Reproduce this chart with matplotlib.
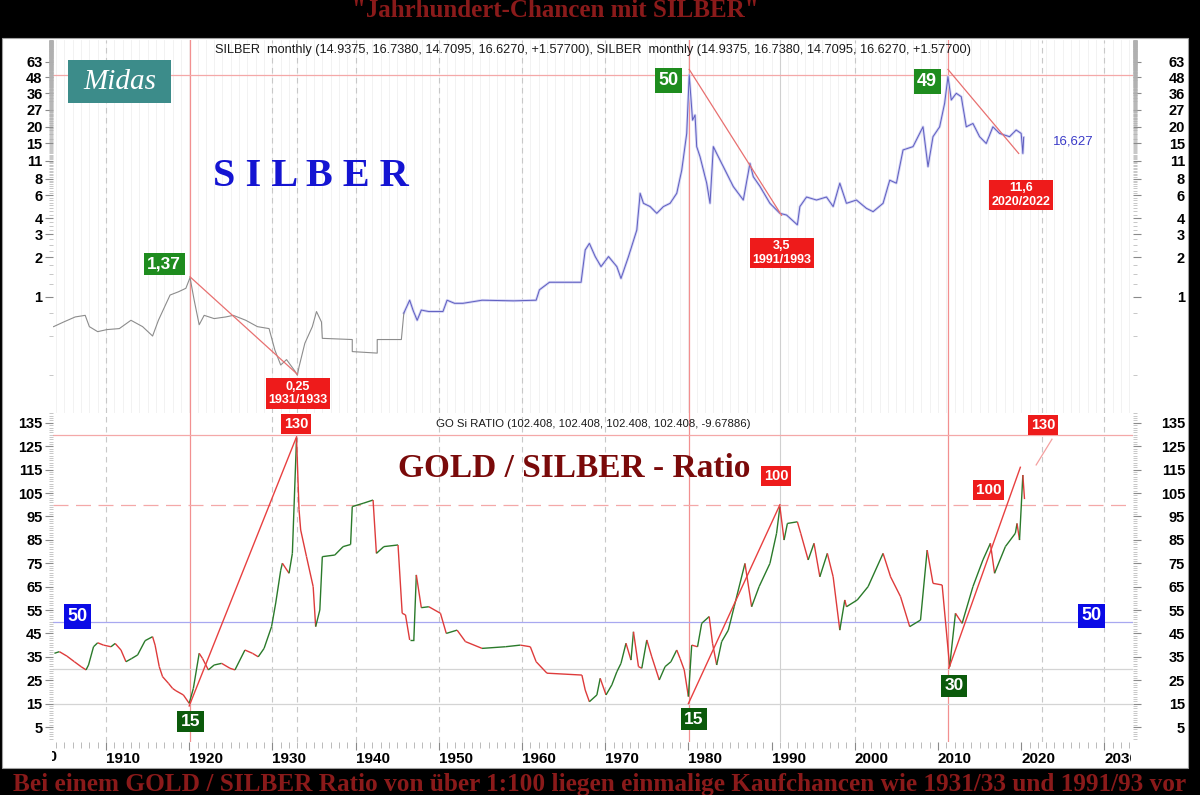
import numpy as np
import matplotlib
matplotlib.use("Agg")
import matplotlib.pyplot as plt
from matplotlib.collections import LineCollection
from matplotlib.patches import Rectangle
from matplotlib.ticker import FixedLocator, NullFormatter, FixedFormatter, NullLocator
from matplotlib.transforms import Bbox, TransformedBbox

# ---------------- data ----------------
silver_years = [1903.7, 1904.9, 1906.3, 1907.5, 1908.0, 1909.0, 1910.1, 1911.6, 1913.0, 1914.4,
                1915.6, 1916.3, 1917.7, 1918.7, 1919.6, 1920.1, 1920.6, 1921.2, 1921.8, 1923.0,
                1924.4, 1925.3, 1926.8, 1928.2, 1929.6, 1930.3, 1931.0, 1931.7, 1932.7, 1933.0,
                1933.2, 1933.9, 1934.8, 1935.3, 1935.9, 1936.0, 1939.6, 1939.6, 1942.6, 1942.6,
                1945.5, 1945.8, 1946.5, 1946.9, 1947.4, 1947.9, 1948.8, 1950.5, 1951.0, 1951.9,
                1952.9, 1955.2, 1959.0, 1961.7, 1962.1, 1963.3, 1967.1, 1967.6, 1968.1, 1968.8,
                1969.5, 1970.4, 1971.4, 1971.9, 1972.8, 1973.8, 1974.2, 1974.6, 1975.4, 1976.2,
                1977.0, 1977.8, 1978.6, 1979.2, 1979.8, 1980.1, 1980.5, 1980.8, 1981.0, 1981.4,
                1982.2, 1982.6, 1983.0, 1983.4, 1984.2, 1985.4, 1986.6, 1987.4, 1987.8, 1988.6,
                1989.8, 1991.0, 1991.8, 1993.1, 1993.4, 1994.2, 1995.4, 1996.6, 1997.4, 1998.2,
                1999.0, 2000.2, 2001.4, 2002.2, 2003.4, 2004.2, 2005.0, 2005.8, 2007.0, 2008.2,
                2008.8, 2009.4, 2010.2, 2010.8, 2011.2, 2011.6, 2012.2, 2012.8, 2013.4, 2014.2,
                2015.0, 2015.8, 2016.6, 2017.4, 2018.6, 2019.4, 2020.0, 2020.2, 2020.3]
silver_prices = [0.59, 0.64, 0.70, 0.72, 0.59, 0.54, 0.56, 0.57, 0.66, 0.59,
                 0.50, 0.66, 1.03, 1.09, 1.16, 1.40, 0.94, 0.61, 0.72, 0.68,
                 0.70, 0.72, 0.66, 0.59, 0.57, 0.39, 0.30, 0.33, 0.27, 0.25,
                 0.29, 0.44, 0.59, 0.77, 0.64, 0.48, 0.47, 0.38, 0.37, 0.47,
                 0.47, 0.75, 0.94, 0.79, 0.66, 0.79, 0.77, 0.77, 0.94, 0.89,
                 0.89, 0.94, 0.93, 0.94, 1.13, 1.29, 1.29, 2.28, 2.56, 2.03,
                 1.70, 2.03, 1.70, 1.38, 2.03, 3.24, 6.19, 5.19, 4.90, 4.35,
                 4.90, 5.19, 6.19, 9.3, 17.8, 50.0, 22.5, 24.6, 14.1, 11.8,
                 7.4, 5.19, 14.1, 12.5, 9.9, 6.97, 5.5, 10.5, 8.3, 7.0,
                 5.19, 4.35, 4.22, 3.55, 4.90, 5.8, 5.5, 5.8, 4.90, 7.4,
                 5.19, 5.5, 4.75, 4.48, 5.19, 7.8, 7.4, 13.3, 14.1, 20.0,
                 9.9, 16.8, 20.0, 30.3, 48.5, 32.1, 36.1, 34.0, 20.0, 21.2,
                 16.8, 14.9, 20.0, 17.8, 16.8, 18.9, 17.8, 12.5, 16.6]

ratio_years = [1903.8, 1904.4, 1905.3, 1906.2, 1907.0, 1907.6, 1907.9, 1908.5, 1909.0, 1909.7,
               1910.6, 1911.1, 1911.8, 1912.4, 1913.1, 1913.8, 1914.7, 1915.6, 1915.9, 1916.4,
               1916.8, 1917.5, 1918.0, 1918.4, 1919.3, 1920.0, 1920.5, 1921.2, 1921.6, 1922.3,
               1923.0, 1923.9, 1924.9, 1925.5, 1926.7, 1927.6, 1928.3, 1929.0, 1929.9, 1930.4,
               1931.0, 1931.2, 1932.0, 1932.4, 1932.9, 1933.2, 1933.4, 1934.1, 1934.9, 1935.2,
               1935.7, 1936.0, 1937.5, 1938.5, 1939.4, 1939.6, 1940.9, 1942.1, 1942.5, 1943.4,
               1945.1, 1945.6, 1946.0, 1946.5, 1947.0, 1947.3, 1947.9, 1948.8, 1950.2, 1950.9,
               1952.2, 1953.2, 1955.2, 1958.0, 1959.8, 1961.0, 1961.7, 1963.0, 1967.2, 1967.6,
               1968.1, 1969.0, 1969.4, 1970.1, 1970.8, 1971.4, 1971.9, 1972.5, 1973.1, 1973.4,
               1974.0, 1974.4, 1975.0, 1975.6, 1976.5, 1977.2, 1977.9, 1978.6, 1979.0, 1979.5,
               1980.0, 1980.4, 1981.1, 1981.6, 1982.5, 1982.9, 1983.4, 1984.0, 1984.8, 1985.5,
               1986.8, 1987.6, 1988.5, 1989.8, 1990.6, 1991.0, 1991.5, 1991.9, 1993.1, 1993.5,
               1994.4, 1995.1, 1995.8, 1996.7, 1997.4, 1998.2, 1998.8, 1999.0, 2000.3, 2001.6,
               2003.4, 2004.3, 2005.5, 2006.6, 2007.9, 2008.7, 2009.4, 2010.5, 2011.4, 2012.1,
               2012.9, 2014.2, 2015.4, 2016.3, 2016.8, 2018.1, 2019.3, 2019.5, 2019.8, 2020.2,
               2020.4]
ratio_values = [36.5, 37.2, 35.3, 32.9, 30.8, 29.4, 31.5, 39.3, 41.0, 40.0,
                39.3, 40.7, 37.9, 32.9, 34.3, 35.8, 41.9, 43.6, 40.0, 30.8,
                26.5, 23.7, 21.5, 20.5, 18.7, 15.1, 21.5, 36.5, 34.3, 29.4,
                31.5, 32.2, 30.1, 29.4, 37.9, 36.5, 35.0, 38.6, 47.9, 58.0,
                72.0, 75.0, 70.7, 79.2, 128.5, 98.0, 89.2, 77.8, 65.0, 47.9,
                55.0, 77.8, 78.5, 82.1, 83.0, 99.2, 100.6, 102.0, 79.2, 82.1,
                82.8, 53.6, 52.9, 42.2, 42.2, 70.0, 56.0, 56.4, 53.6, 45.0,
                46.4, 41.5, 38.6, 39.3, 40.0, 39.3, 32.9, 28.0, 27.2, 20.8,
                15.8, 18.7, 25.8, 18.7, 23.0, 28.6, 32.2, 40.8, 33.6, 45.7,
                30.8, 30.1, 42.2, 35.0, 25.1, 30.8, 32.9, 37.9, 34.3, 29.4,
                18.0, 40.0, 39.3, 49.3, 52.2, 40.8, 31.5, 41.5, 46.4, 56.4,
                74.9, 56.4, 65.0, 74.9, 87.8, 99.2, 84.9, 92.0, 92.7, 87.8,
                76.4, 83.5, 69.2, 79.2, 69.2, 46.4, 59.3, 56.4, 59.3, 65.0,
                79.2, 69.2, 60.7, 47.9, 50.7, 80.6, 66.4, 65.7, 30.8, 53.6,
                49.3, 65.0, 76.4, 83.5, 70.7, 82.1, 87.8, 92.0, 84.9, 112.7,
                102.4]

silver_ticks = [1, 2, 3, 4, 6, 8, 11, 15, 20, 27, 36, 48, 63]
ratio_ticks = [5, 15, 25, 35, 45, 55, 65, 75, 85, 95, 105, 115, 125, 135]
decade_ticks = [1910, 1920, 1930, 1940, 1950, 1960, 1970, 1980, 1990, 2000, 2010, 2020, 2030]
decade_labels = ["1910", "1920", "1930", "1940", "1950", "1960", "1970", "1980", "1990",
                 "2000", "2010", "2020", "2030"]

silver_level = 50
ratio_levels = [130, 50, 30, 15]
ratio_dashed_level = 100
red_marker_years = [1920.1, 1980.1, 2011.2]
dashed_marker_years = [1910, 1930, 1933, 1940, 1950, 1960, 1970, 2000, 2022.5, 2030]
gray_marker_year = 1991

silver_trend_x = [[1920.1, 1933.0], [1980.1, 1991.2], [2011.2, 2019.7]]
silver_trend_y = [[1.42, 0.255], [55, 4.2], [55, 12.5]]
ratio_trend_x = [[1920.0, 1932.9], [1980.0, 1991.0], [2011.3, 2019.9]]
ratio_trend_y = [[14, 129], [15, 100], [30, 116]]
ratio_ext_x = [2021.8, 2023.7]
ratio_ext_y = [117, 128]

GREEN, DKGREEN, RED, BLUE = "#1e8c1e", "#0b5a0b", "#ee1b1b", "#0a0ae6"
silver_box_x = [1917.0, 1933.1, 1977.6, 2008.7, 1991.25, 2019.98]
silver_box_y = [1.78, 0.1815, 45.2, 44.4, 2.16, 6.01]
silver_box_text = ["1,37", "0,25\n1931/1933", "50", "49", "3,5\n1991/1993", "11,6\n2020/2022"]
silver_box_color = [GREEN, RED, GREEN, GREEN, RED, RED]
silver_box_size = [12.5, 9, 13, 13, 9, 9]

ratio_box_x = [1932.84, 1990.53, 2022.6, 2016.07, 1906.6, 2028.45, 1920.16, 1980.67, 2011.9]
ratio_box_y = [134.5, 112.3, 134.1, 106.3, 52.2, 52.6, 7.35, 8.4, 22.7]
ratio_box_text = ["130", "100", "130", "100", "50", "50", "15", "15", "30"]
ratio_box_color = [RED, RED, RED, RED, BLUE, BLUE, DKGREEN, DKGREEN, DKGREEN]
ratio_box_size = [10.5, 10.5, 10.5, 11, 13, 13, 12.5, 12.5, 12.5]

last_price_text = "16,627"

# ---------------- layout ----------------
W, H = 1200, 795
SANS = ["Liberation Sans", "DejaVu Sans"]
SERIF = ["Liberation Serif", "DejaVu Serif"]
fig = plt.figure(figsize=(W / 100, H / 100), dpi=100, facecolor="black")


def fx(px):
    return px / W


def fy(py):
    return 1 - py / H


fig.patches.append(Rectangle((fx(2), fy(768)), fx(1188) - fx(2), fy(38) - fy(768),
                             transform=fig.transFigure, facecolor="white",
                             edgecolor="#a0a0a0", lw=0.8, zorder=-10))

L, R = 53, 1133
XLIM = (1903.63, 2033.44)
ax1 = fig.add_axes([fx(L), fy(413), fx(R) - fx(L), fy(40) - fy(413)])
ax2 = fig.add_axes([fx(L), fy(742), fx(R) - fx(L), fy(413) - fy(742)])
for ax in (ax1, ax2):
    ax.set_facecolor("none")
    ax.set_xlim(*XLIM)
    for s in ax.spines.values():
        s.set_visible(False)

ax1.set_yscale("log")
ax1.set_ylim(0.1287, 92.4)
ax2.set_ylim(-1.41, 139.2)

# faint yearly stripes in silver pane
for yr in range(1904, 2034):
    ax1.axvline(yr, color="#f0f0f0", lw=0.6, zorder=0)

for ax in (ax1, ax2):
    for yr in dashed_marker_years:
        ax.axvline(yr, color="#c8c8c8", lw=0.8, ls=(0, (5, 4)), zorder=1)
    ax.axvline(gray_marker_year, color="#d0d0d0", lw=0.8, zorder=1)
    for yr in red_marker_years:
        ax.axvline(yr, color="#f29090", lw=0.9, zorder=1)

ax1.axhline(silver_level, color="#f4a8a8", lw=0.9, zorder=1)
ax2.axhline(ratio_levels[0], color="#f4a8a8", lw=0.9, zorder=1)
ax2.axhline(ratio_levels[1], color="#a8a8f0", lw=0.9, zorder=1)
ax2.axhline(ratio_levels[2], color="#d4d4d4", lw=0.9, zorder=1)
ax2.axhline(ratio_levels[3], color="#d4d4d4", lw=0.9, zorder=1)
ax2.axhline(ratio_dashed_level, color="#f4a8a8", lw=0.9, ls=(0, (12, 6)), zorder=1)

# silver series
sy = np.array(silver_years)
sp = np.array(silver_prices)
i = int(np.searchsorted(sy, 1945.6))
ax1.plot(sy[:i + 1], sp[:i + 1], color="#8c8c8c", lw=0.8, zorder=4)
ax1.plot(sy[i:], sp[i:], color="#d2d2f4", lw=1.9, zorder=3, solid_joinstyle="round")
ax1.plot(sy[i:], sp[i:], color="#5e5ec0", lw=0.7, zorder=4)

# ratio series colored by direction
ry = np.array(ratio_years)
rv = np.array(ratio_values)
pts = np.column_stack([ry, rv])
segs = np.stack([pts[:-1], pts[1:]], axis=1)
cols = ["#2a7a2a" if b >= a else "#de3b3b" for a, b in zip(rv[:-1], rv[1:])]
ax2.add_collection(LineCollection(segs, colors=cols, linewidths=1.0, zorder=5))

# trend lines
for xs, ys in zip(silver_trend_x, silver_trend_y):
    ax1.plot(xs, ys, color="#e87070", lw=0.9, zorder=6)
for xs, ys in zip(ratio_trend_x, ratio_trend_y):
    ax2.plot(xs, ys, color="#e84040", lw=1.0, zorder=6)
ax2.plot(ratio_ext_x, ratio_ext_y, color="#f4a0a0", lw=0.9, zorder=6)

# ---------------- ticks ----------------
TICKC = "#8a8a8a"


def style_y(ax, right, major, minor):
    ax.yaxis.set_major_locator(FixedLocator(major))
    ax.yaxis.set_major_formatter(FixedFormatter([str(v) for v in major]))
    ax.yaxis.set_minor_locator(FixedLocator(minor))
    ax.yaxis.set_minor_formatter(NullFormatter())
    if right:
        ax.yaxis.tick_right()
        ax.tick_params(axis="y", which="major", length=6, width=0.8, color=TICKC, pad=31.5,
                       labelsize=10.5)
        for t in ax.yaxis.get_major_ticks():
            t.label2.set_horizontalalignment("right")
    else:
        ax.yaxis.tick_left()
        ax.tick_params(axis="y", which="major", length=6, width=0.8, color=TICKC, pad=1.5,
                       labelsize=10.5)
    ax.tick_params(axis="y", which="minor", length=3, width=0.5, color="#b0b0b0")
    for lbl in ax.get_yticklabels():
        lbl.set_fontweight("bold")
        lbl.set_family(SANS)


silver_minor = [v / 4 for v in range(1, 370)]
ratio_minor = list(range(0, 140))
ax1r = ax1.twinx()
ax1r.set_yscale("log")
ax1r.set_ylim(ax1.get_ylim())
ax2r = ax2.twinx()
ax2r.set_ylim(ax2.get_ylim())
for a in (ax1r, ax2r):
    for s in a.spines.values():
        s.set_visible(False)
style_y(ax1, False, silver_ticks, silver_minor)
style_y(ax1r, True, silver_ticks, silver_minor)
style_y(ax2, False, ratio_ticks, ratio_minor)
style_y(ax2r, True, ratio_ticks, ratio_minor)

ax1.xaxis.set_major_locator(NullLocator())
ax1.xaxis.set_minor_locator(NullLocator())
ax2.xaxis.set_major_locator(FixedLocator(decade_ticks))
ax2.xaxis.set_major_formatter(FixedFormatter(decade_labels))
ax2.xaxis.set_minor_locator(FixedLocator(list(range(1904, 2034))))
ax2.tick_params(axis="x", which="major", length=6, width=0.8, color=TICKC, pad=1.5, labelsize=11)
ax2.tick_params(axis="x", which="minor", length=4, width=0.6, color="#b0b0b0")
clipbox = TransformedBbox(Bbox([[fx(52), 0], [fx(1131), 1]]), fig.transFigure)
for t in ax2.xaxis.get_major_ticks():
    t.label1.set_horizontalalignment("left")
    t.label1.set_fontweight("bold")
    t.label1.set_family(SANS)
    t.label1.set_clip_box(clipbox)
    t.label1.set_clip_on(True)
t0 = fig.text(fx(23), fy(750), "1900", ha="left", va="top", fontsize=11, fontweight="bold",
              family=SANS)
t0.set_clip_box(clipbox)
t0.set_clip_on(True)

# ---------------- boxes ----------------
for x, y, s, c, f in zip(silver_box_x, silver_box_y, silver_box_text, silver_box_color, silver_box_size):
    ax1.text(x, y, s, ha="center", va="center", color="white", fontsize=f, fontweight="bold",
             family=SANS, linespacing=1.15, zorder=10,
             bbox=dict(boxstyle="square,pad=0.2", fc=c, ec="none"))
for x, y, s, c, f in zip(ratio_box_x, ratio_box_y, ratio_box_text, ratio_box_color, ratio_box_size):
    ax2.text(x, y, s, ha="center", va="center", color="white", fontsize=f, fontweight="bold",
             family=SANS, zorder=10, clip_on=False,
             bbox=dict(boxstyle="square,pad=0.2", fc=c, ec="none"))
ax1.text(2023.8, 15.3, last_price_text, ha="left", va="center", color="#3a3ac8", fontsize=9.5,
         family=SANS, zorder=10)

# ---------------- texts ----------------
fig.text(fx(555), fy(17), '"Jahrhundert-Chancen mit SILBER"', ha="center", va="baseline",
         fontsize=18, fontweight="bold", family=SERIF, color="#8a1a1a")
fig.text(fx(600), fy(791), "Bei einem GOLD / SILBER Ratio von über 1:100 liegen einmalige "
         "Kaufchancen wie 1931/33 und 1991/93 vor", ha="center", va="baseline",
         fontsize=18.2, fontweight="bold", family=SERIF, color="#8a1a1a")
fig.text(fx(593), fy(50), "SILBER  monthly (14.9375, 16.7380, 14.7095, 16.6270, +1.57700), "
         "SILBER  monthly (14.9375, 16.7380, 14.7095, 16.6270, +1.57700)",
         ha="center", va="center", fontsize=9.2, family=SANS, color="#1a1a1a")
fig.text(fx(593), fy(424), "GO Si RATIO (102.408, 102.408, 102.408, 102.408, -9.67886)",
         ha="center", va="center", fontsize=8.2, family=SANS, color="#1a1a1a")
fig.text(fx(213), fy(186), "S I L B E R", ha="left", va="baseline", fontsize=29,
         fontweight="bold", family=SERIF, color="#1414d2")
fig.text(fx(574), fy(477), "GOLD / SILBER - Ratio", ha="center", va="baseline", fontsize=24,
         fontweight="bold", family=SERIF, color="#7a0a0a")

fig.patches.append(Rectangle((fx(68), fy(103)), fx(171) - fx(68), fy(60) - fy(103),
                             transform=fig.transFigure, facecolor="#3c8c8a", edgecolor="none",
                             zorder=5))
fig.text(fx(119.5), fy(82), "Midas", ha="center", va="center", fontsize=21, style="italic",
         family=SERIF, color="white", zorder=6)

fig.savefig("out.png", dpi=100, facecolor="black")
